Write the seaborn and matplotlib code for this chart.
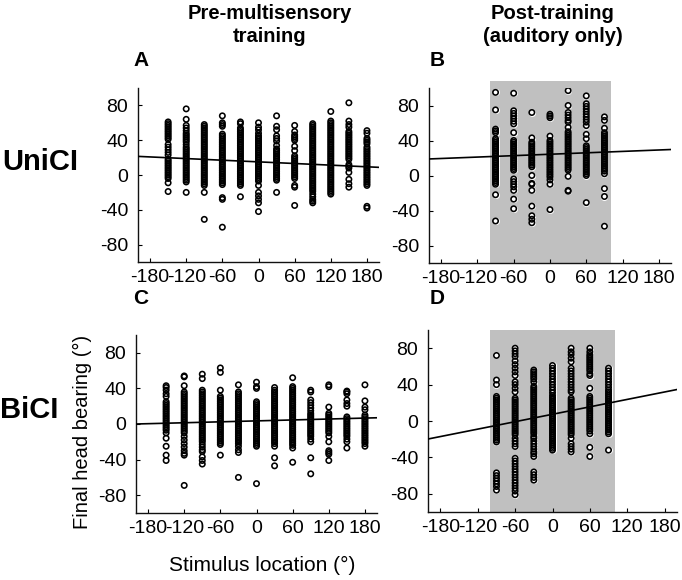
import numpy as np
import pandas as pd
import matplotlib
matplotlib.use("Agg")
import matplotlib.pyplot as plt
import seaborn as sns
from matplotlib.patches import Rectangle

# ---------------- data ----------------
stim_ac = [-150, -120, -90, -60, -30, 0, 30, 60, 90, 120, 150, 180]
stim_bd = [-90, -60, -30, 0, 30, 60, 90]

a_vals = [
    [61, 59, 57, 55, 53, 51, 49, 47, 45, 43, 41, 35, 32, 29, 26, 23, 18, 16, 14, 12, 10, 8, 6, 4, 2, 0, -2, -4, -9, -19],
    [76, 64, 57, 54, 51, 48, 46, 44, 42, 40, 38, 35, 32, 30, 28, 26, 24, 22, 20, 18, 16, 14, 12, 10, 8, 6, 4, 2, 0, -2, -4, -6, -8, -20],
    [58, 56, 54, 52, 50, 48, 46, 44, 42, 40, 38, 36, 34, 32, 30, 28, 26, 24, 22, 20, 18, 16, 14, 12, 10, 8, 6, 4, 2, 0, -2, -4, -6, -8, -10, -12, -20, -51],
    [68, 60, 58, 56, 47, 45, 43, 41, 39, 37, 35, 33, 31, 29, 27, 25, 23, 21, 19, 17, 15, 13, 11, 9, 7, 5, 3, 1, -1, -3, -5, -7, -9, -11, -26, -28, -60],
    [61, 59, 54, 52, 50, 48, 46, 44, 42, 40, 38, 36, 34, 32, 30, 28, 26, 24, 22, 20, 18, 16, 14, 12, 10, 8, 6, 4, 2, 0, -2, -4, -6, -8, -10, -12, -25],
    [60, 55, 52, 48, 45, 43, 41, 39, 37, 35, 33, 31, 29, 27, 25, 23, 21, 19, 17, 15, 13, 11, 9, 7, 5, 3, 1, -1, -3, -5, -7, -12, -20, -24, -28, -32, -42],
    [68, 56, 52, 45, 42, 39, 34, 30, 28, 26, 24, 22, 20, 18, 16, 14, 12, 10, 8, 6, 4, 2, 0, -2, -4, -6, -20],
    [57, 50, 46, 44, 42, 40, 33, 28, 22, 20, 18, 16, 14, 12, 10, 8, 6, 4, 2, 0, -2, -4, -12, -14, -35],
    [59, 57, 55, 53, 51, 49, 47, 45, 43, 41, 39, 37, 35, 33, 31, 29, 27, 25, 23, 21, 19, 17, 15, 13, 11, 9, 7, 5, 3, 1, -1, -3, -5, -7, -9, -11, -13, -15, -17, -19, -22, -25, -28, -30, -32],
    [73, 62, 60, 58, 56, 54, 52, 50, 48, 46, 44, 42, 40, 38, 36, 34, 32, 30, 28, 26, 24, 22, 20, 18, 16, 14, 12, 10, 8, 6, 4, 2, 0, -2, -4, -6, -8, -10, -12, -14, -16, -18, -20, -22],
    [83, 62, 58, 55, 50, 48, 46, 44, 42, 40, 38, 36, 34, 32, 30, 28, 26, 24, 22, 20, 18, 12, 10, 8, 3, -5, -10, -14],
    [51, 48, 42, 40, 38, 36, 32, 30, 28, 26, 24, 22, 20, 18, 16, 14, 12, 10, 8, 6, 4, 2, 0, -2, -4, -6, -8, -10, -12, -36, -38],
]

b_vals = [
    [95, 75, 53, 51, 49, 42, 40, 38, 36, 34, 32, 30, 28, 26, 24, 22, 20, 18, 16, 14, 12, 10, 8, 6, 4, 2, 0, -2, -4, -6, -8, -10, -22, -52],
    [94, 74, 71, 68, 65, 62, 59, 49, 40, 38, 36, 34, 32, 30, 28, 26, 24, 22, 20, 18, 16, 14, 12, 10, 8, 6, -4, -7, -10, -13, -17, -27, -38],
    [72, 43, 38, 36, 34, 32, 30, 28, 26, 24, 22, 20, 18, 16, 14, 12, 10, 0, -9, -10, -17, -35, -46, -50, -54],
    [70, 68, 66, 45, 40, 38, 36, 34, 32, 30, 28, 26, 24, 22, 20, 18, 16, 14, 12, 10, 8, 6, 4, 2, 0, -2, -5, -10, -39],
    [97, 80, 72, 69, 66, 63, 61, 55, 50, 48, 46, 44, 42, 40, 38, 36, 34, 32, 30, 28, 26, 24, 22, 20, 18, 16, 14, 12, 10, 8, 6, -1, -17, -18],
    [91, 82, 79, 76, 73, 70, 67, 64, 61, 57, 47, 42, 34, 32, 30, 28, 26, 24, 22, 20, 18, 16, 14, 12, 10, 8, 6, 4, 2, 0, -31],
    [67, 63, 54, 49, 47, 45, 43, 41, 39, 37, 35, 33, 31, 29, 27, 25, 23, 21, 19, 17, 15, 13, 11, 9, 7, 5, 2, -15, -24, -58],
]

c_vals = [
    [43, 41, 38, 34, 31, 25, 23, 21, 19, 17, 15, 13, 11, 9, 7, 5, 3, 1, -1, -3, -5, -7, -10, -16, -25, -35, -41],
    [54, 53, 43, 36, 34, 32, 30, 28, 26, 24, 22, 20, 18, 16, 14, 12, 10, 8, 6, 4, 2, 0, -2, -4, -6, -8, -10, -14, -18, -22, -26, -30, -33, -35, -69],
    [56, 51, 38, 36, 34, 32, 30, 28, 26, 24, 22, 20, 18, 16, 14, 12, 10, 8, 6, 4, 2, 0, -2, -4, -6, -8, -10, -12, -14, -16, -18, -20, -23, -26, -29, -31, -37, -41, -45],
    [63, 58, 38, 31, 29, 27, 25, 23, 21, 19, 17, 15, 13, 11, 9, 7, 5, 3, 1, -1, -3, -5, -7, -9, -11, -13, -15, -17, -19, -21, -23, -35],
    [44, 36, 34, 32, 30, 28, 26, 24, 22, 20, 18, 16, 14, 12, 10, 8, 6, 4, 2, 0, -2, -4, -6, -8, -10, -12, -14, -16, -18, -20, -22, -25, -29, -32, -60],
    [47, 42, 40, 25, 23, 21, 19, 17, 15, 13, 11, 9, 7, 5, 3, 1, -1, -3, -5, -7, -9, -11, -13, -15, -17, -19, -21, -23, -25, -67],
    [41, 38, 36, 34, 32, 30, 28, 26, 24, 22, 20, 18, 16, 14, 12, 10, 8, 6, 4, 2, 0, -2, -4, -6, -8, -10, -12, -14, -16, -18, -20, -22, -25, -38, -47],
    [52, 42, 40, 38, 36, 34, 32, 30, 28, 26, 24, 22, 20, 18, 16, 14, 12, 10, 8, 6, 4, 2, 0, -2, -4, -6, -8, -10, -12, -14, -16, -18, -20, -22, -24, -27, -43],
    [38, 36, 27, 24, 21, 18, 15, 12, 10, 8, 6, 4, 2, 0, -2, -4, -6, -8, -10, -12, -14, -17, -20, -38, -56],
    [44, 42, 19, 12, 10, 8, 6, 4, 2, 0, -2, -4, -6, -8, -10, -14, -20, -30, -32, -34, -41],
    [37, 36, 34, 27, 23, 20, 8, 6, 4, 2, 0, -2, -4, -6, -8, -10, -12, -14, -17, -20, -27],
    [44, 26, 19, 16, 10, 8, 6, 4, 2, 0, -2, -4, -6, -8, -10, -12, -14, -16, -18, -20, -22, -25],
]

d_vals = [
    [72, 45, 40, 27, 25, 23, 21, 19, 17, 15, 13, 11, 9, 7, 5, 3, 1, -1, -3, -5, -7, -9, -11, -13, -15, -17, -19, -21, -23, -57, -60, -63, -66, -69, -72, -76],
    [80, 77, 74, 71, 66, 62, 58, 54, 50, 43, 40, 36, 32, 25, 23, 21, 19, 17, 15, 13, 11, 9, 7, 5, 3, 1, -1, -3, -5, -7, -9, -11, -13, -15, -19, -22, -25, -28, -41, -44, -47, -50, -53, -56, -59, -62, -65, -68, -71, -74, -77, -81],
    [56, 54, 52, 50, 48, 46, 43, 38, 36, 34, 32, 30, 28, 26, 24, 22, 20, 18, 16, 14, 12, 10, 8, 6, 4, 2, 0, -2, -4, -6, -8, -10, -12, -14, -17, -19, -22, -25, -28, -31, -34, -36, -39, -56, -59, -62, -65],
    [61, 58, 55, 52, 49, 46, 43, 40, 37, 34, 31, 28, 26, 24, 22, 20, 18, 16, 14, 12, 10, 8, 6, 4, 2, 0, -2, -4, -6, -8, -10, -12, -14, -16, -18, -20, -22, -24, -26, -28, -30, -32],
    [80, 76, 73, 69, 65, 58, 55, 52, 49, 46, 43, 40, 37, 34, 32, 25, 23, 21, 19, 17, 15, 13, 11, 9, 7, 5, 3, 1, -1, -3, -5, -7, -9, -11, -13, -15, -19, -25, -28, -31, -34],
    [80, 76, 73, 71, 69, 67, 65, 63, 61, 59, 57, 55, 52, 50, 36, 27, 25, 23, 21, 19, 17, 15, 13, 11, 9, 7, 5, 3, 1, -1, -3, -5, -7, -9, -11, -14, -29, -39],
    [58, 55, 52, 49, 46, 43, 40, 37, 34, 32, 30, 28, 26, 24, 22, 20, 18, 16, 14, 12, 10, 8, 6, 4, 2, 0, -2, -4, -6, -8, -10, -12, -14, -32],
]

# regression fits (intercept, slope) per panel A, B, C, D
fit_intercepts = [15.1, 24.3, 3.5, 7.4]
fit_slopes = [-0.0315, 0.027, 0.0175, 0.136]

xtick_vals = [-180, -120, -60, 0, 60, 120, 180]
xtick_labels = ["-180", "-120", "-60", "0", "60", "120", "180"]
ytick_vals = [-80, -40, 0, 40, 80]
ytick_labels = ["-80", "-40", "0", "40", "80"]
shade_range = [-100, 100]

# ---------------- style ----------------
sns.set_style("ticks")
plt.rcParams["font.family"] = ["Liberation Sans", "DejaVu Sans"]
plt.rcParams["text.color"] = "black"
plt.rcParams["axes.labelcolor"] = "black"
plt.rcParams["xtick.color"] = "black"
plt.rcParams["ytick.color"] = "black"

W, H = 682, 580
fig = plt.figure(figsize=(W / 100, H / 100), dpi=100)


def rect(l, r, t, b):
    return [l / W, 1 - b / H, (r - l) / W, (b - t) / H]


def to_df(stims, vals):
    rows = []
    for s, col in zip(stims, vals):
        for v in col:
            rows.append((s, v))
    return pd.DataFrame(rows, columns=["stim", "bearing"])


panels = [
    ("A", rect(138, 379, 88, 262), stim_ac, a_vals, False),
    ("B", rect(429, 671, 88, 263), stim_bd, b_vals, True),
    ("C", rect(136, 377, 335, 513), stim_ac, c_vals, False),
    ("D", rect(428, 677, 330, 512), stim_bd, d_vals, True),
]

for i, (name, r, stims, vals, shaded) in enumerate(panels):
    ax = fig.add_axes(r)
    ax.set_xlim(-200, 200)
    ax.set_ylim(-100, 100)
    if shaded:
        top = 108 if name == "B" else 100
        ax.add_patch(Rectangle((shade_range[0], -100), shade_range[1] - shade_range[0],
                               top + 100, facecolor="#c0c0c0", edgecolor="none",
                               zorder=0, clip_on=False))
    df = to_df(stims, vals)
    # white interiors first, then the black rings on top
    sns.scatterplot(data=df, x="stim", y="bearing", ax=ax, marker="o", s=15,
                    color="white", edgecolor="white", linewidth=1.15, zorder=2,
                    legend=False)
    sns.scatterplot(data=df, x="stim", y="bearing", ax=ax, marker="o", s=15,
                    facecolor="none", edgecolor="black", linewidth=1.15, zorder=3,
                    legend=False)
    ax.axline((0, fit_intercepts[i]), slope=fit_slopes[i], color="black",
              lw=1.2, zorder=4)
    ax.set_xticks(xtick_vals)
    ax.set_xticklabels(xtick_labels)
    ax.set_yticks(ytick_vals)
    ax.set_yticklabels(ytick_labels)
    ax.tick_params(direction="in", length=3, width=0.8, labelsize=14, pad=5,
                   colors="black")
    ax.tick_params(axis="y", pad=7)
    ax.set_xlabel("")
    ax.set_ylabel("")
    sns.despine(ax=ax)
    for sp in ("left", "bottom"):
        ax.spines[sp].set_linewidth(1.0)
        ax.spines[sp].set_color("#111111")
    ax.set_facecolor("none")

# ---------------- texts ----------------
def ftext(x, y, s, **kw):
    fig.text(x / W, 1 - y / H, s, **kw)

ftext(270, 25, "Pre-multisensory\ntraining", ha="center", va="center",
      fontsize=14.5, fontweight="bold", linespacing=1.3)
ftext(553, 25, "Post-training\n(auditory only)", ha="center", va="center",
      fontsize=14.5, fontweight="bold", linespacing=1.3)
for lab, x, y in [("A", 141, 60), ("B", 437, 60), ("C", 141, 298), ("D", 437, 298)]:
    ftext(x, y, lab, ha="center", va="center", fontsize=15, fontweight="bold")
ftext(2, 162, "UniCI", ha="left", va="center", fontsize=21, fontweight="bold")
ftext(0, 410, "BiCI", ha="left", va="center", fontsize=21, fontweight="bold")
ftext(82, 432, "Final head bearing (°)", ha="center", va="center",
      fontsize=14.5, rotation=90)
ftext(262, 565, "Stimulus location (°)", ha="center", va="center", fontsize=15)

fig.savefig("out.png", dpi=100)
